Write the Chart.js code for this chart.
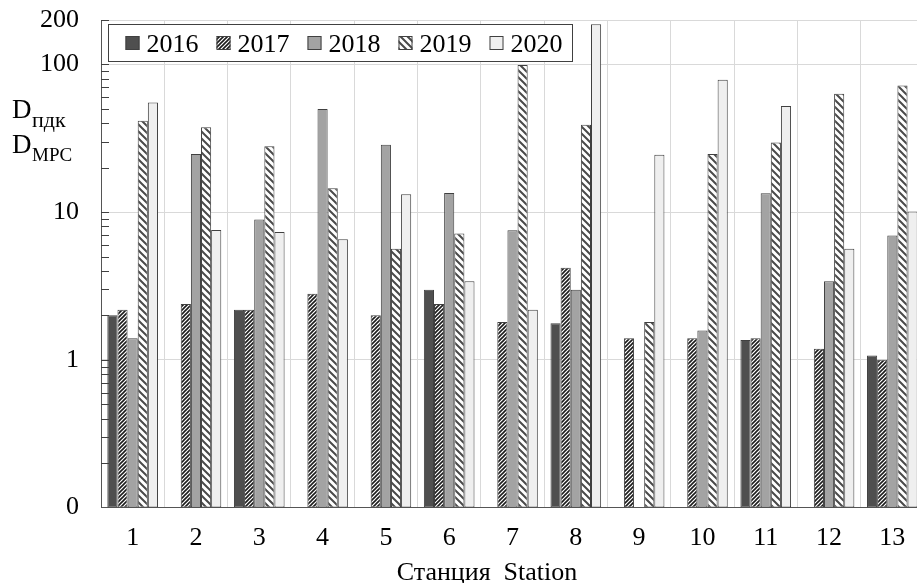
<!DOCTYPE html>
<html>
<head>
<meta charset="utf-8">
<script src="https://cdn.jsdelivr.net/npm/chart.js@4.4.1/dist/chart.umd.min.js"></script>
<style>
  html, body { margin: 0; padding: 0; background: #fff; overflow: hidden; }
  canvas { display: block; }
</style>
</head>
<body>
<canvas id="c" width="924" height="583"></canvas>
<script>
// Stations along the x axis
const stations = ['1', '2', '3', '4', '5', '6', '7', '8', '9', '10', '11', '12', '13'];

// D (ПДК / MPC exceedance ratio) per station and year; null = no bar
const d2016 = [2.0, null, 2.18, null, null, 2.98, null, 1.77, null, null, 1.36, null, 1.07];
const d2017 = [2.18, 2.39, 2.18, 2.8, 2.0, 2.39, 1.8, 4.2, 1.4, 1.4, 1.4, 1.19, 1.0];
const d2018 = [1.4, 24.8, 8.9, 49.9, 28.6, 13.5, 7.53, 2.98, null, 1.58, 13.4, 3.4, 6.94];
const d2019 = [41.6, 37.5, 27.9, 14.5, 5.64, 7.16, 99, 39.1, 1.8, 24.8, 29.6, 63.3, 72];
const d2020 = [55.3, 7.58, 7.35, 6.55, 13.2, 3.4, 2.18, 187, 24.5, 78.7, 52.3, 5.64, 10.1];

// Labelled ticks on the log axis (the bottom value is shown as "0")
const yTickValues = [0.1, 1, 10, 100, 200];
const yTickLabels = ['0', '1', '10', '100', '200'];

const FONT = '"Liberation Serif", "Times New Roman", serif';
const EDGE = '#404040';

const ctx = document.getElementById('c').getContext('2d');

function hatch(size, lineW, color, dir) {
  const t = document.createElement('canvas');
  t.width = t.height = size;
  const g = t.getContext('2d');
  g.fillStyle = '#fff';
  g.fillRect(0, 0, size, size);
  g.strokeStyle = color;
  g.lineWidth = lineW;
  g.beginPath();
  if (dir === '/') {
    g.moveTo(-1, size + 1); g.lineTo(size + 1, -1);
    g.moveTo(-1, 1); g.lineTo(1, -1);
    g.moveTo(size - 1, size + 1); g.lineTo(size + 1, size - 1);
  } else {
    g.moveTo(-1, -1); g.lineTo(size + 1, size + 1);
    g.moveTo(size - 1, -1); g.lineTo(size + 1, 1);
    g.moveTo(-1, size - 1); g.lineTo(1, size + 1);
  }
  g.stroke();
  return ctx.createPattern(t, 'repeat');
}

const fill2016 = '#4f4f4f';
const fill2017 = hatch(4, 1.6, '#1c1c1c', '/');
const fill2018 = '#a3a3a3';
const fill2019 = hatch(7, 2, '#4a4a4a', '\\');
const fill2020 = '#efefef';

// Inner tick marks on the y axis at every log step up to the axis top
const yMarkValues = [];
for (const decade of [0.1, 1, 10, 100]) {
  for (let m = 1; m <= 9; m++) {
    const v = +(decade * m).toPrecision(3);
    if (v > 0.1 && v <= 200) yMarkValues.push(v);
  }
}

const innerTicks = {
  id: 'innerTicks',
  afterDatasetsDraw(chart) {
    const y = chart.scales.y;
    const c = chart.ctx;
    c.save();
    c.strokeStyle = '#404040';
    c.lineWidth = 1;
    c.beginPath();
    for (const v of yMarkValues) {
      const py = Math.round(y.getPixelForValue(v)) + 0.5;
      c.moveTo(y.right, py);
      c.lineTo(y.right + 8, py);
    }
    c.stroke();
    c.restore();
  }
};

const boxLegend = {
  id: 'boxLegend',
  afterDraw(chart) {
    const c = chart.ctx;
    const left = 108.5, top = 24.5, h = 37;
    c.save();
    c.font = '26px ' + FONT;
    let x = left + 17;
    const items = chart.data.datasets.map(ds => {
      const w = c.measureText(ds.label).width;
      const it = { ds, x };
      x += 21 + w + 18;
      return it;
    });
    const right = x - 18 + 10;
    c.fillStyle = '#fff';
    c.fillRect(left, top, right - left, h);
    c.strokeStyle = '#404040';
    c.lineWidth = 1;
    c.strokeRect(left, top, right - left, h);
    const cy = top + h / 2;
    for (const it of items) {
      c.fillStyle = it.ds.backgroundColor;
      c.fillRect(it.x, cy - 7, 14, 14);
      c.strokeStyle = EDGE;
      c.strokeRect(it.x + 0.5, cy - 6.5, 13, 13);
      c.fillStyle = '#000';
      c.textBaseline = 'alphabetic';
      c.fillText(it.ds.label, it.x + 21, cy + 9);
    }
    c.restore();
  }
};

const axisTitles = {
  id: 'axisTitles',
  afterDraw(chart) {
    const c = chart.ctx;
    c.save();
    c.fillStyle = '#000';
    c.textBaseline = 'alphabetic';
    c.font = '27px ' + FONT;
    c.fillText('D', 12, 118);
    c.fillText('D', 12, 153);
    c.font = '22px ' + FONT;
    c.fillText('пдк', 32, 127);
    c.font = '19px ' + FONT;
    c.fillText('MPC', 32, 161);
    c.font = '26px ' + FONT;
    c.textAlign = 'center';
    c.fillText('Станция  Station', 487, 580);
    c.restore();
  }
};

new Chart(ctx, {
  type: 'bar',
  data: {
    labels: stations,
    datasets: [
      { label: '2016', data: d2016, backgroundColor: fill2016 },
      { label: '2017', data: d2017, backgroundColor: fill2017 },
      { label: '2018', data: d2018, backgroundColor: fill2018 },
      { label: '2019', data: d2019, backgroundColor: fill2019 },
      { label: '2020', data: d2020, backgroundColor: fill2020 }
    ]
  },
  options: {
    responsive: false,
    animation: false,
    layout: { padding: { top: 20, right: 0, bottom: 0, left: 0 } },
    datasets: {
      bar: {
        categoryPercentage: 0.8,
        barPercentage: 1.0,
        borderColor: EDGE,
        borderWidth: 1,
        borderSkipped: false
      }
    },
    plugins: {
      legend: { display: false },
      tooltip: { enabled: false }
    },
    scales: {
      x: {
        type: 'category',
        offset: true,
        grid: { offset: true, color: '#d9d9d9', drawTicks: false },
        border: { color: '#555', width: 1 },
        ticks: {
          color: '#000',
          font: { family: FONT, size: 26 },
          padding: 15,
          maxRotation: 0,
          autoSkip: false
        },
        afterFit(s) {
          s.height = 75.5;
          s.paddingLeft = 0;
          s.paddingRight = 0;
        }
      },
      y: {
        type: 'logarithmic',
        min: 0.1,
        max: 200,
        afterBuildTicks(s) { s.ticks = yTickValues.map(v => ({ value: v })); },
        grid: {
          drawTicks: false,
          color: c => (c.tick && c.tick.value < 0.5) ? 'rgba(0,0,0,0)' : '#d9d9d9'
        },
        border: { color: '#555', width: 1 },
        ticks: {
          color: '#000',
          font: { family: FONT, size: 26 },
          padding: 22,
          callback: (v) => {
            const i = yTickValues.indexOf(v);
            return i >= 0 ? yTickLabels[i] : '';
          }
        },
        afterFit(s) {
          s.width = 101;
          s.paddingTop = 0;
          s.paddingBottom = 0;
        }
      }
    }
  },
  plugins: [innerTicks, boxLegend, axisTitles]
});
</script>
</body>
</html>
